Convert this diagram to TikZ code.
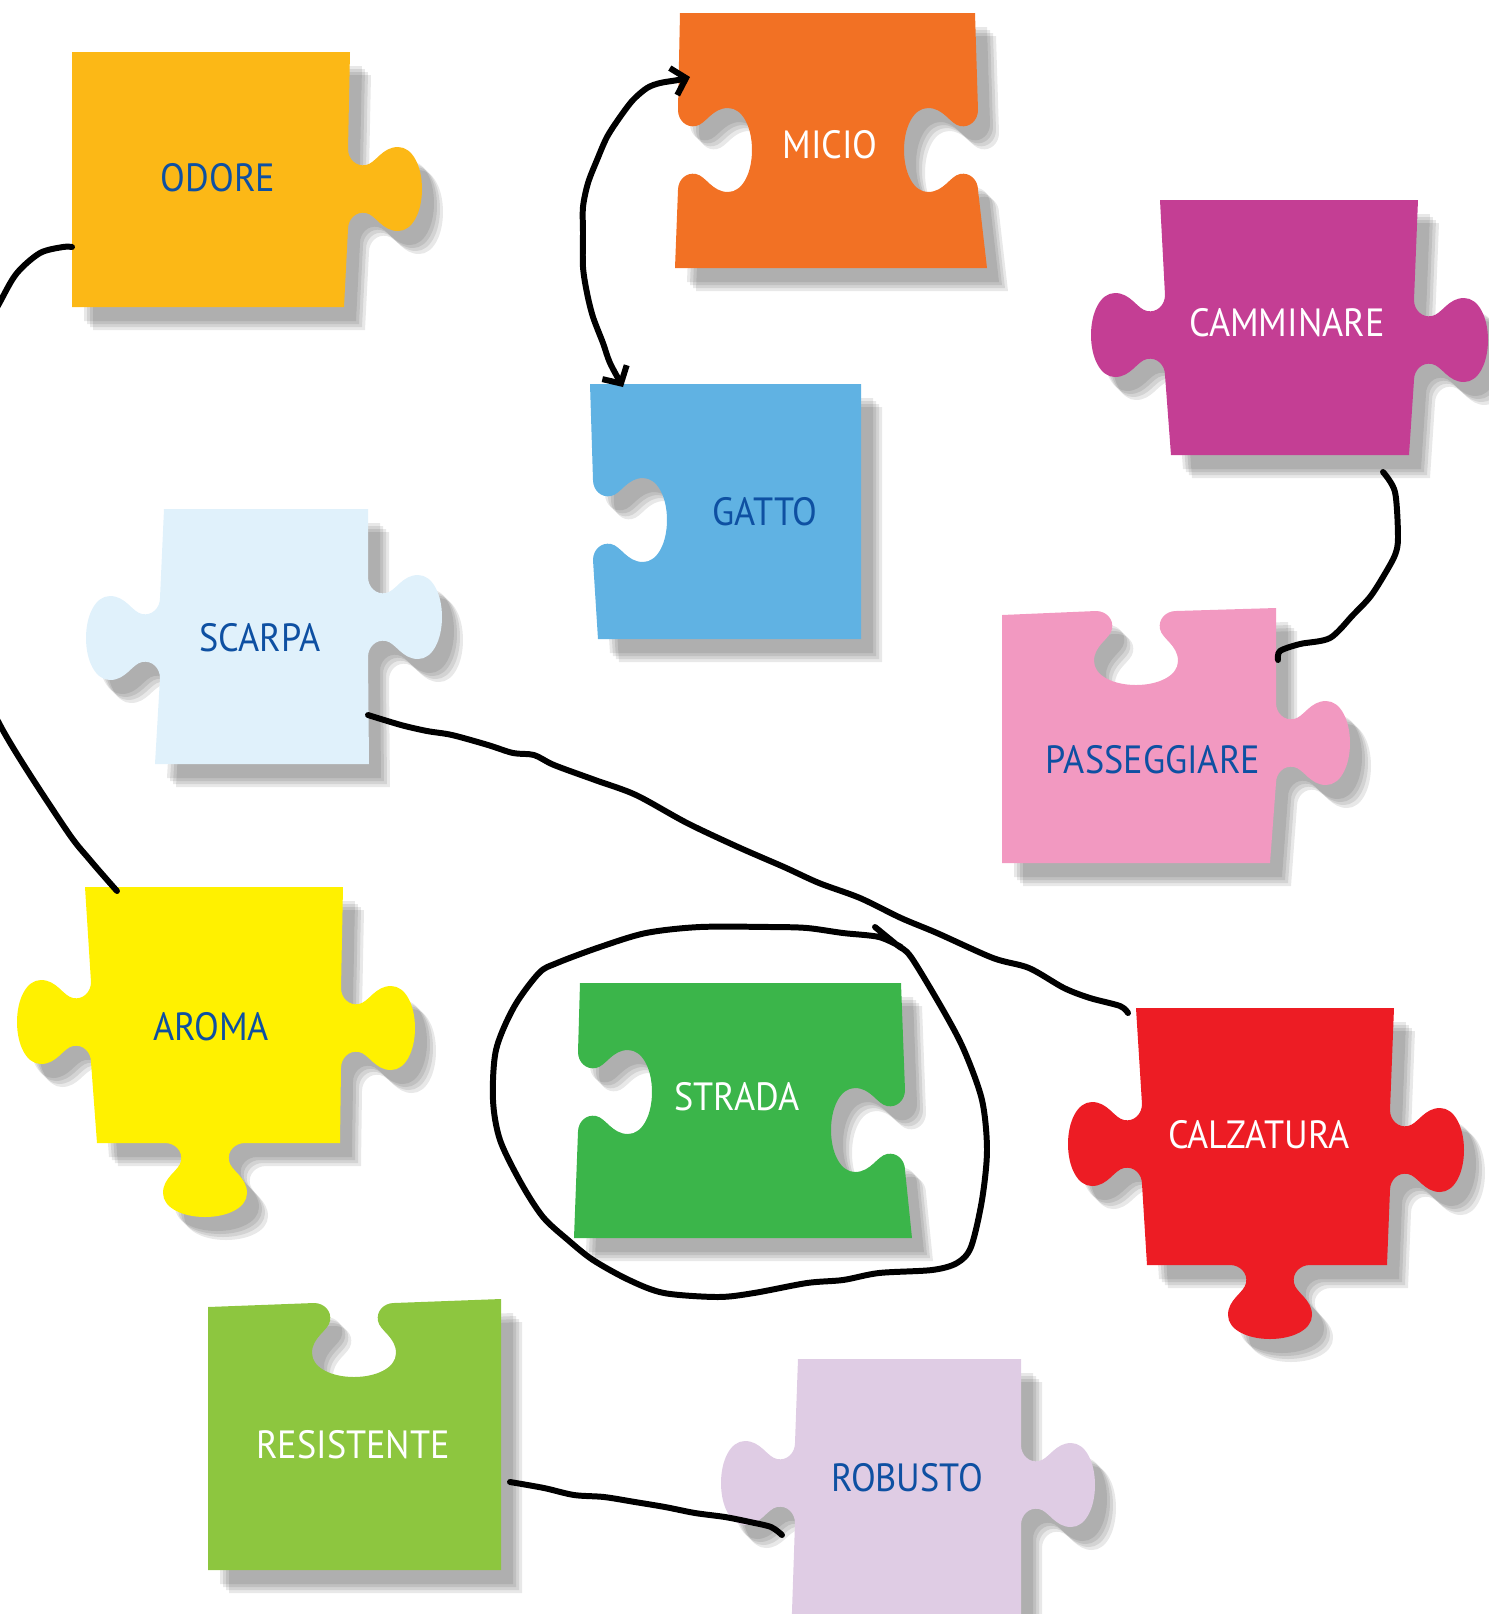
\documentclass[tikz,border=0pt]{standalone}
\usepackage{fontspec}
\setmainfont{PT Sans}[FakeStretch=0.92]
\usetikzlibrary{arrows.meta}

\definecolor{giallo}{RGB}{252,184,22}
\definecolor{arancio}{RGB}{242,113,36}
\definecolor{magenta}{RGB}{196,62,148}
\definecolor{azzurro}{RGB}{96,178,227}
\definecolor{celeste}{RGB}{224,241,251}
\definecolor{rosa}{RGB}{242,153,193}
\definecolor{limone}{RGB}{255,241,0}
\definecolor{verde}{RGB}{59,181,74}
\definecolor{rosso}{RGB}{237,28,36}
\definecolor{prato}{RGB}{141,198,63}
\definecolor{lilla}{RGB}{223,204,228}
\definecolor{blu}{RGB}{14,80,162}

\tikzset{
  ombra/.style={fill=black,opacity=.09},
  testo/.style={font=\fontsize{11.2}{13}\selectfont,inner sep=0pt},
  tratto/.style={line width=1.7pt,line cap=round,line join=round},
}

% incastro sul lato: centro, rotazione, 1 = sporgenza, -1 = rientranza
\newcommand{\incastro}[4]{{[shift={(#1,#2)},rotate=#3,yscale=#4]
  -- (-40,0) .. controls (-30,0) and (-22,-8) .. (-24,-18)
  .. controls (-26,-28) and (-42,-34) .. (-42,-50)
  .. controls (-42,-65) and (-22,-74) .. (0,-74)
  .. controls (22,-74) and (42,-65) .. (42,-50)
  .. controls (42,-34) and (26,-28) .. (24,-18)
  .. controls (22,-8) and (30,0) .. (40,0)}}

% tessera con ombra sfumata
\newcommand{\pezzo}[2]{%
  \foreach \ds in {12,15,18,21}{\fill[ombra,shift={(\ds,\ds+2)}] #2;}
  \fill[#1] #2;}

\begin{document}
\begin{tikzpicture}[x=0.01cm,y=-0.01cm]
  \useasboundingbox (0,0) rectangle (1489,1614);
  \clip (0,0) rectangle (1489,1614);

  % tessere
  \pezzo{giallo}{(72,52) -- (350,52) \incastro{348}{189}{-90}{1} -- (344,307) -- (72,307) -- cycle}
  \pezzo{arancio}{(680,13) -- (975,13) \incastro{978}{150}{-90}{-1} -- (987,268) -- (675,268) \incastro{678}{150}{90}{-1} -- cycle}
  \pezzo{magenta}{(1160,200) -- (1418,200) \incastro{1414}{340}{-90}{1} -- (1409,455) -- (1171,455) \incastro{1165}{335}{90}{1} -- cycle}
  \pezzo{azzurro}{(590,384) -- (861,384) -- (861,639) -- (598,639) \incastro{593}{520}{90}{-1} -- cycle}
  \pezzo{celeste}{(164,509) -- (368,509) \incastro{368}{617}{-90}{1} -- (369,764) -- (155,764) \incastro{160}{638}{90}{1} -- cycle}
  \pezzo{rosa}{(1002,615) \incastro{1136}{611}{0}{-1} -- (1276,608) \incastro{1276}{743}{-90}{1} -- (1270,863) -- (1002,863) -- cycle}
  \pezzo{limone}{(85,887) -- (343,887) \incastro{341}{1028}{-90}{1} -- (340,1143) \incastro{205}{1143}{180}{1} -- (97,1143) \incastro{91}{1022}{90}{1} -- cycle}
  \pezzo{verde}{(580,983) -- (901,983) \incastro{905}{1130}{-90}{-1} -- (912,1238) -- (574,1238) \incastro{578}{1092}{90}{-1} -- cycle}
  \pezzo{rosso}{(1136,1008) -- (1394,1008) \incastro{1390}{1150}{-90}{1} -- (1387,1265) \incastro{1270}{1265}{180}{1} -- (1147,1265) \incastro{1142}{1144}{90}{1} -- cycle}
  \pezzo{prato}{(208,1307) \incastro{354}{1303}{0}{-1} -- (501,1299) -- (501,1570) -- (208,1570) -- cycle}
  \pezzo{lilla}{(798,1359) -- (1021,1359) \incastro{1021}{1485}{-90}{1} -- (1021,1700) -- (789,1700) \incastro{795}{1483}{90}{1} -- cycle}

  % parole
  \foreach \n/\x/\y/\t/\c in {odore/218/178/ODORE/blu, micio/830/145/MICIO/white,
      camminare/1287/323/CAMMINARE/white, gatto/765/512/GATTO/blu,
      scarpa/260/638/SCARPA/blu, passeggiare/1153/760/PASSEGGIARE/blu,
      aroma/211/1027/AROMA/blu, strada/737/1097/STRADA/white,
      calzatura/1259/1135/CALZATURA/white, resistente/353/1445/RESISTENTE/white,
      robusto/907/1478/ROBUSTO/blu}
    \node[testo,text=\c] (\n) at (\x,\y) {\t};

  % collegamenti a mano libera
  \draw[tratto] plot[smooth] coordinates {([shift={(-146,69)}]odore.center) (63,247) (40,253)
    (17,273) (0,302) (-40,380) (-60,500) (-45,620) (0,725) (65,828) (90,860)
    ([shift={(-94,-136)}]aroma.center)};
  \draw[tratto,{Straight Barb[length=1.3mm,width=2.8mm]}-{Straight Barb[length=1.3mm,width=2.8mm]}]
    plot[smooth] coordinates {([shift={(-140,-68)}]micio.center) (678,80) (660,83) (647,88)
    (633,100) (620,117) (607,137) (597,160) (588,183) (583,207) (583,233) (583,267)
    (587,293) (593,317) (603,343) (610,363) ([shift={(-142,-125)}]gatto.center)};
  \draw[tratto] plot[smooth] coordinates {([shift={(96,149)}]camminare.center) (1395,492)
    (1398,537) (1395,555) (1383,577) (1370,597) (1353,615) (1330,638) (1300,644)
    (1280,651) ([shift={(125,-100)}]passeggiare.center)};
  \draw[tratto] plot[smooth] coordinates {([shift={(108,77)}]scarpa.center) (401,725) (427,731)
    (452,735) (488,745) (513,753) (534,755) (554,765) (595,780) (636,795) (687,823)
    (738,847) (784,867) (819,883) (860,898) (901,918) (937,933) (993,958) (1029,968)
    (1064,988) (1090,998) (1120,1006) ([shift={(-131,-122)}]calzatura.center)};
  \draw[tratto] plot[smooth] coordinates {([shift={(157,37)}]resistente.center) (544,1488)
    (574,1495) (604,1497) (635,1502) (665,1507) (695,1513) (725,1517) (750,1522)
    (771,1527) ([shift={(-125,57)}]robusto.center)};
  % cerchio intorno a STRADA
  \draw[tratto,shift={(strada.center)}] plot[smooth] coordinates {(138,-170) (160,-152)
    (174,-140) (206,-87) (227,-47) (245,3) (250,53) (245,103) (234,150) (220,166)
    (195,173) (142,176) (106,183) (70,186) (17,196) (-19,200) (-73,196) (-108,183)
    (-144,163) (-169,143) (-194,120) (-216,86) (-237,43) (-244,3) (-241,-47) (-223,-90)
    (-198,-124) (-180,-134) (-137,-150) (-91,-164) (-37,-170) (34,-170) (70,-169)
    (106,-164) (142,-160) (164,-150)};
\end{tikzpicture}
\end{document}
